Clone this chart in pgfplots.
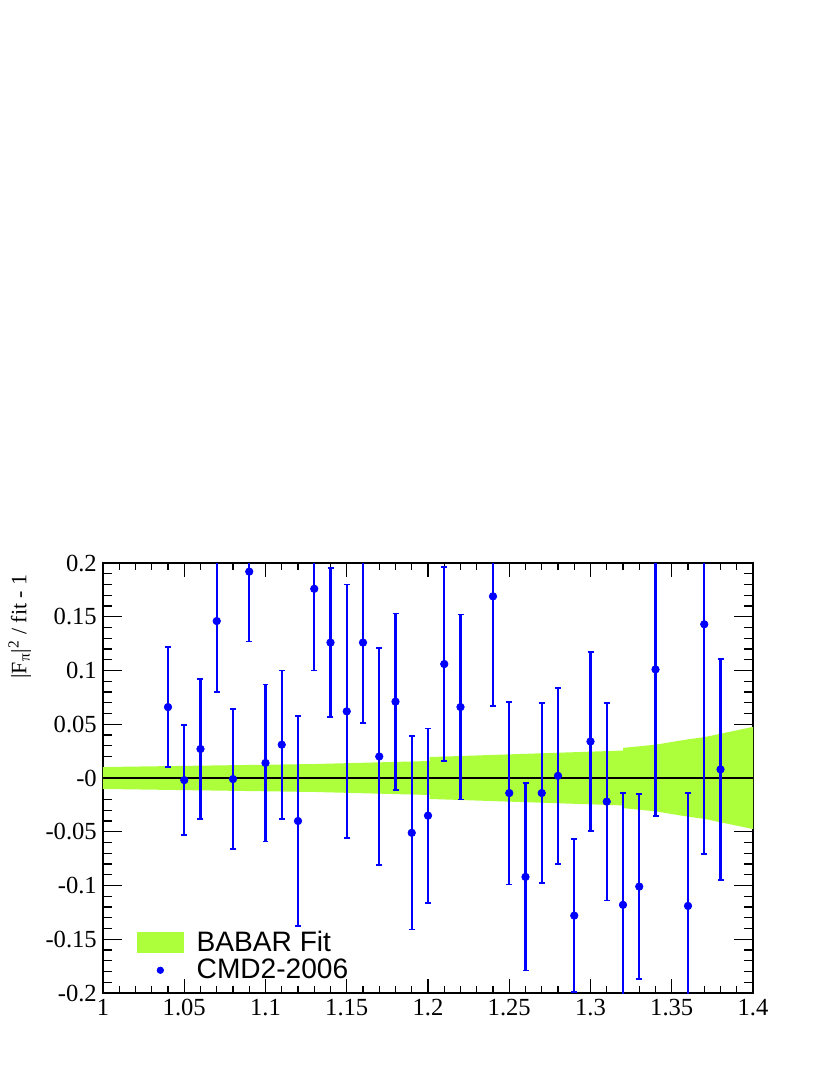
\documentclass[border=0pt]{standalone}
\usepackage{pgfplots}
\pgfplotsset{compat=1.18}
\usepackage{pgfplotstable}
\usepackage{fontspec}
\setmainfont{Liberation Serif}
\setsansfont{Liberation Sans}
\definecolor{bandgreen}{RGB}{173,255,60}

% CMD2-2006 points: x, y, error
\pgfplotstableread{
x    y      e
1.04 0.066  0.056
1.05 -0.002 0.051
1.06 0.027  0.065
1.07 0.146  0.066
1.08 -0.001 0.065
1.09 0.192  0.065
1.10 0.014  0.073
1.11 0.031  0.069
1.12 -0.040 0.098
1.13 0.176  0.076
1.14 0.126  0.069
1.15 0.062  0.118
1.16 0.126  0.075
1.17 0.020  0.101
1.18 0.071  0.082
1.19 -0.051 0.090
1.20 -0.035 0.081
1.21 0.106  0.090
1.22 0.066  0.086
1.24 0.169  0.102
1.25 -0.014 0.085
1.26 -0.092 0.087
1.27 -0.014 0.084
1.28 0.002  0.082
1.29 -0.128 0.071
1.30 0.034  0.083
1.31 -0.022 0.092
1.32 -0.118 0.104
1.33 -0.101 0.086
1.34 0.101  0.136
1.36 -0.119 0.105
1.37 0.143  0.214
1.38 0.008  0.103
}\cmdtwo

\begin{document}
\begin{tikzpicture}
\useasboundingbox (-2.06cm,-1.64cm) rectangle (14.54cm,19.86cm);
\begin{axis}[
    at={(0,0)}, anchor=south west,
    scale only axis,
    width=13cm, height=8.6cm,
    xmin=1, xmax=1.4,
    ymin=-0.2, ymax=0.2,
    xtick={1,1.05,...,1.4},
    xticklabels={1,1.05,1.1,1.15,1.2,1.25,1.3,1.35,1.4},
    ytick={-0.2,-0.15,...,0.2},
    yticklabels={-0.2,-0.15,-0.1,-0.05,-0,0.05,0.1,0.15,0.2},
    minor x tick num=4,
    minor y tick num=4,
    tick align=inside,
    xtick pos=both, ytick pos=both,
    major tick length=0.33cm,
    minor tick length=0.17cm,
    xtick style={/pgfplots/major tick length=0.28cm, /pgfplots/minor tick length=0.14cm},
    ytick style={/pgfplots/major tick length=0.38cm, /pgfplots/minor tick length=0.19cm},
    axis line style={line width=0.8pt},
    every tick/.style={black, line width=0.6pt},
    tick label style={font=\fontsize{14}{16}\selectfont},
    ylabel={|F\textsubscript{π}|\textsuperscript{2} / fit - 1},
    ylabel style={font=\fontsize{12.5}{14}\selectfont, rotate=0,
        at={(axis description cs:-0.128,0.988)}, anchor=east},
    legend style={at={(axis description cs:0.051,0.018)}, anchor=south west,
        draw=none, fill=none, font=\sffamily\fontsize{16}{18}\selectfont,
        row sep=-1pt, inner sep=0pt},
    legend cell align=left,
]

% fit band
\addplot[fill=bandgreen, draw=none,
    legend image code/.code={\fill[bandgreen] (0cm,-0.21cm) rectangle (0.94cm,0.21cm);
        \path (1.12cm,0cm);}]
coordinates {
    (1.00,0.0102) (1.13,0.013) (1.201,0.0158) (1.201,0.0195) (1.27,0.023)
    (1.32,0.0255) (1.32,0.028) (1.34,0.031) (1.36,0.036) (1.37,0.038)
    (1.40,0.0475)
    (1.40,-0.0475) (1.37,-0.038) (1.36,-0.036) (1.34,-0.031) (1.32,-0.028)
    (1.32,-0.0255) (1.27,-0.023) (1.201,-0.0195) (1.201,-0.0158) (1.13,-0.013)
    (1.00,-0.0102)
} -- cycle;
\addlegendentry{BABAR Fit}

\addplot[black, line width=0.6pt, forget plot] coordinates {(1,0) (1.4,0)};

\addplot[blue, only marks, mark=*, mark size=0.075cm,
    legend image code/.code={\fill[blue] (0.47cm,0cm) circle (0.065cm);
        \path (0cm,0cm) (1.12cm,0cm);},
    error bars/.cd, y dir=both, y explicit,
    error bar style={blue, line width=1.2pt},
    error mark options={blue, line width=1pt, mark size=0.06cm, rotate=90}]
table[x=x, y=y, y error=e] {\cmdtwo};
\addlegendentry{CMD2-2006}

\end{axis}
\end{tikzpicture}
\end{document}
